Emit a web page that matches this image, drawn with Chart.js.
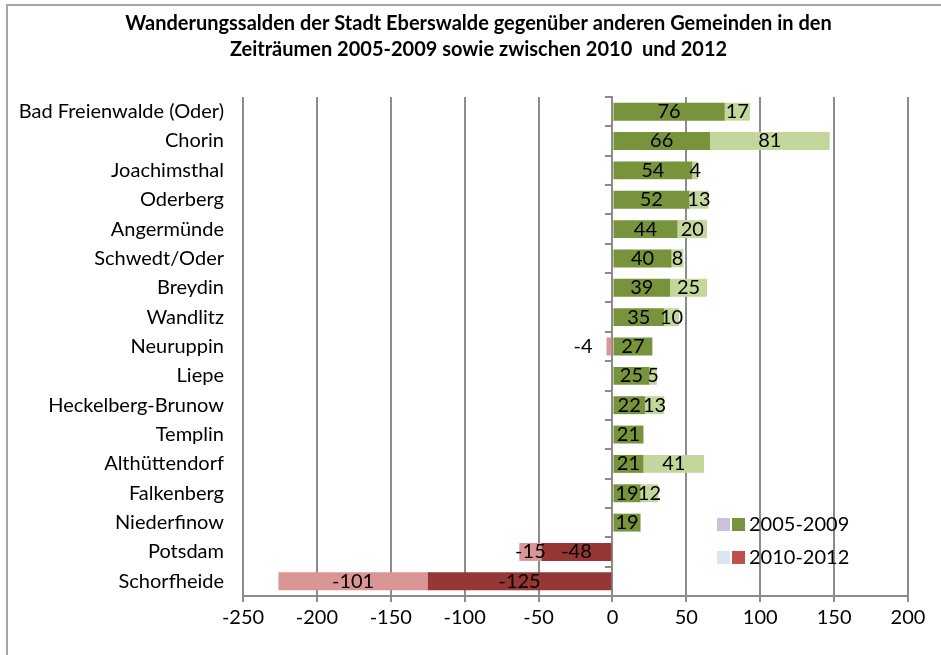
<!DOCTYPE html>
<html>
<head>
<meta charset="utf-8">
<script src="https://cdn.jsdelivr.net/npm/chart.js@4.4.0/dist/chart.umd.min.js"></script>
<style>
  body { margin: 0; background: #fff; }
  #frame { position: absolute; left: 6px; top: 4px; width: 940px; height: 660px;
           border-left: 2px solid #a6a6a6; border-top: 2px solid #a6a6a6; }
  #wrap { position: absolute; left: 0; top: 0; width: 941px; height: 655px; }
</style>
</head>
<body>
<div id="frame"></div>
<div id="wrap"><canvas id="myChart"></canvas></div>
<script>
const ctx = document.getElementById('myChart');

const gemeinden = ['Bad Freienwalde (Oder)', 'Chorin', 'Joachimsthal', 'Oderberg', 'Angermünde',
  'Schwedt/Oder', 'Breydin', 'Wandlitz', 'Neuruppin', 'Liepe', 'Heckelberg-Brunow', 'Templin',
  'Althüttendorf', 'Falkenberg', 'Niederfinow', 'Potsdam', 'Schorfheide'];
const saldo0509 = [76, 66, 54, 52, 44, 40, 39, 35, 27, 25, 22, 21, 21, 19, 19, -48, -125];
const saldo1012 = [17, 81, 4, 13, 20, 8, 25, 10, -4, 5, 13, null, 41, 12, null, -15, -101];
const serien = ['2005-2009', '2010-2012'];

const gridColor = '#8c8c8c';
const fontName = 'Lato';

// colours: positive / negative per series, and the odd legend swatches
const farben0509 = { pos: '#77933C', neg: '#953735' };
const farben1012 = { pos: '#C3D69B', neg: '#D99694' };
const legendSwatches = [['#CCC1DA', '#77933C'], ['#DBE5F1', '#C0504D']];

const byValue = (werte, f) => werte.map(v => (v < 0 ? f.neg : f.pos));

const valueLabels = {
  id: 'valueLabels',
  afterDatasetsDraw(chart) {
    const c = chart.ctx;
    c.save();
    c.font = '20px ' + fontName;
    c.fillStyle = '#000';
    c.textBaseline = 'middle';
    chart.data.datasets.forEach((ds, i) => {
      chart.getDatasetMeta(i).data.forEach((bar, j) => {
        const v = ds.data[j];
        if (v === null) return;
        const txt = String(v);
        const w = c.measureText(txt).width;
        const barW = Math.abs(bar.x - bar.base);
        if (v < 0 && w > 2 * barW) {
          c.textAlign = 'right';
          c.fillText(txt, Math.min(bar.x, bar.base) - 14, bar.y);
        } else {
          c.textAlign = 'center';
          c.fillText(txt, (bar.x + bar.base) / 2, bar.y);
        }
      });
    });
    c.restore();
  }
};

const legendBox = {
  id: 'legendBox',
  afterDraw(chart) {
    const c = chart.ctx;
    const a = chart.chartArea;
    c.save();
    c.font = '20px ' + fontName;
    c.textBaseline = 'middle';
    c.textAlign = 'left';
    serien.forEach((name, i) => {
      const cy = a.bottom - 71.5 + i * 33;
      const x0 = a.right - 191;
      c.fillStyle = legendSwatches[i][0];
      c.fillRect(x0, cy - 6.5, 13, 13);
      c.fillStyle = legendSwatches[i][1];
      c.fillRect(x0 + 15, cy - 6.5, 13, 13);
      c.fillStyle = '#000';
      c.fillText(name, x0 + 32, cy);
    });
    c.restore();
  }
};

const data = {
  labels: gemeinden,
  datasets: [
    {
      label: serien[0],
      data: saldo0509,
      backgroundColor: byValue(saldo0509, farben0509)
    },
    {
      label: serien[1],
      data: saldo1012,
      backgroundColor: byValue(saldo1012, farben1012)
    }
  ]
};

const config = {
  type: 'bar',
  data: data,
  plugins: [valueLabels, legendBox],
  options: {
    indexAxis: 'y',
    responsive: true,
    maintainAspectRatio: false,
    animation: false,
    categoryPercentage: 1,
    barPercentage: 0.61,
    layout: { padding: { left: 16, right: 0, top: 0, bottom: 0 } },
    plugins: {
      legend: { display: false },
      tooltip: { enabled: false },
      title: {
        display: true,
        text: ['Wanderungssalden der Stadt Eberswalde gegenüber anderen Gemeinden in den',
               'Zeiträumen 2005-2009 sowie zwischen 2010  und 2012'],
        color: '#000',
        font: { family: fontName, size: 20, weight: 'bold', lineHeight: 1.3 },
        padding: { top: 11, bottom: 34 }
      }
    },
    scales: {
      x: {
        stacked: true,
        min: -250,
        max: 200,
        ticks: { stepSize: 50, color: '#000', font: { family: fontName, size: 20 }, padding: 4 },
        grid: { color: gridColor, lineWidth: 2, tickLength: 6 },
        border: { color: gridColor, width: 2 },
        afterFit(scale) { scale.height = 59; scale.paddingRight = 33; }
      },
      y: {
        stacked: true,
        grid: { display: false, drawTicks: false },
        border: { display: false },
        ticks: { color: '#000', font: { family: fontName, size: 20 }, padding: 19, autoSkip: false },
        afterFit(scale) { scale.width = 227; }
      },
      y2: {
        type: 'category',
        axis: 'y',
        labels: gemeinden,
        position: { x: 0 },
        offset: true,
        grid: { drawOnChartArea: false, offset: true, tickLength: 6, color: gridColor, lineWidth: 2 },
        border: { color: gridColor, width: 2 },
        ticks: { display: false }
      }
    }
  }
};

new Chart(ctx, config);
</script>
</body>
</html>
